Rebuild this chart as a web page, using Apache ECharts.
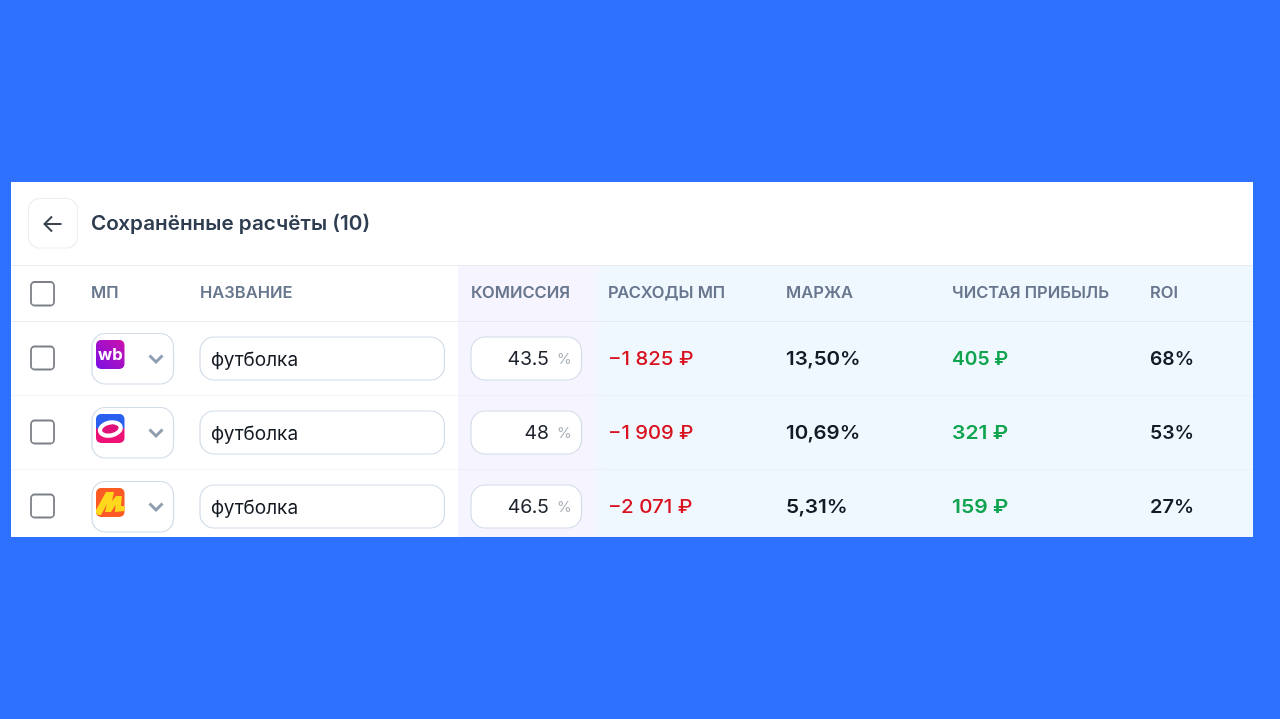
<!DOCTYPE html>
<html>
<head>
<meta charset="utf-8">
<title>Сохранённые расчёты</title>
<style>
  html, body { margin: 0; padding: 0; background: #2f71ff; }
  #chart { width: 1280px; height: 719px; }
</style>
<script src="https://cdn.jsdelivr.net/npm/echarts@6/dist/echarts.min.js"></script>
</head>
<body>
<div id="chart"></div>
<script>
// данные таблицы
var title = 'Сохранённые расчёты (10)';
var headers = ['МП', 'НАЗВАНИЕ', 'КОМИССИЯ', 'РАСХОДЫ МП', 'МАРЖА', 'ЧИСТАЯ ПРИБЫЛЬ', 'ROI'];
var rows = ['wb', 'ozon', 'ym'];
var names = ['футболка', 'футболка', 'футболка'];
var commission = [43.5, 48, 46.5];
var costs = [-1825, -1909, -2071];
var margin = [13.50, 10.69, 5.31];
var profit = [405, 321, 159];
var roi = [68, 53, 27];

// положение колонок, px
var headerX = [91, 200, 471, 608, 786, 952, 1150];
var font = 'Inter, "Noto Sans", sans-serif';
var BORDER = '#d2dce7';
var ctx = document.createElement('canvas').getContext('2d');

function money(v) {
  var s = String(Math.abs(v)).replace(/\B(?=(\d{3})+$)/g, ' ');
  return (v < 0 ? '\u2212' : '') + s + ' \u20BD';
}

function points(list) {
  return list.map(function (v, i) { return [i, v]; });
}

function cellText(x, cy, text, weight, size, color, align, stretch) {
  var el = {
    type: 'text',
    style: {
      x: x, y: cy, text: text, fill: color,
      font: weight + ' ' + size + 'px ' + font,
      textAlign: align || 'left', textVerticalAlign: 'middle'
    }
  };
  if (stretch) {
    el.scaleX = stretch;
    el.originX = x;
    el.originY = cy;
  }
  return el;
}

// в оригинале цифры моноширинные, на canvas tnum не включить
function tabularStretch(text, weight, size) {
  ctx.font = weight + ' ' + size + 'px ' + font;
  var natural = ctx.measureText(text).width;
  var zero = ctx.measureText('0').width;
  var tab = natural;
  text.split('').forEach(function (ch) {
    if (/\d/.test(ch)) tab += zero - ctx.measureText(ch).width;
  });
  return tab / natural;
}

function box(x1, y1, x2, y2, r, fill, stroke, lw) {
  return {
    type: 'rect',
    shape: { x: x1, y: y1, width: x2 - x1, height: y2 - y1, r: r },
    style: { fill: fill, stroke: stroke, lineWidth: lw || 1.2 }
  };
}

function rowY(api) {
  return api.coord([0, api.value(0)])[1];
}

// колонка с текстом
function textSeries(list, x, weight, color, format) {
  return {
    type: 'custom',
    encode: { y: 0, x: 1 },
    clip: false,
    silent: true,
    data: points(list),
    renderItem: function (params, api) {
      var text = format(api.value(1));
      return cellText(x, rowY(api), text, weight, 19, color, 'left', tabularStretch(text, weight, 19));
    }
  };
}

function logo(kind, x, y) {
  var children = [];
  var w = 28.5, h = 29;
  if (kind === 'wb') {
    children.push({
      type: 'rect',
      shape: { x: x, y: y, width: w, height: h, r: 5 },
      style: {
        fill: new echarts.graphic.LinearGradient(1, 0, 0, 1, [
          { offset: 0, color: '#cb11ab' },
          { offset: 1, color: '#7a0fe6' }
        ])
      }
    });
    children.push(cellText(x + 2, y + 15, 'wb', 700, 16, '#ffffff', 'left', 1.04));
  } else if (kind === 'ozon') {
    children.push({
      type: 'rect',
      shape: { x: x, y: y, width: w, height: h, r: 5 },
      style: {
        fill: new echarts.graphic.LinearGradient(0, 0, 0, 1, [
          { offset: 0, color: '#2a5ff0' },
          { offset: 0.48, color: '#2a5ff0' },
          { offset: 0.52, color: '#ee1277' },
          { offset: 1, color: '#ee1277' }
        ])
      }
    });
    children.push({
      type: 'ellipse',
      shape: { cx: x + w / 2, cy: y + h / 2 + 0.5, rx: 10.5, ry: 6.5 },
      rotation: 0.2,
      originX: x + w / 2,
      originY: y + h / 2,
      style: { fill: '#e0127a', stroke: '#ffffff', lineWidth: 4.2 }
    });
  } else {
    children.push({
      type: 'rect',
      shape: { x: x, y: y, width: w, height: h, r: 5 },
      style: { fill: '#fb5a24' }
    });
    children.push({
      type: 'polygon',
      shape: {
        points: [[x, y + 22], [x + 10, y + 4], [x + 18, y + 4], [x + 16, y + 13], [x + 20, y + 8],
          [x + 26, y + 8], [x + 25, y + 18], [x + 28.5, y + 18], [x + 28.5, y + 23], [x + 19, y + 24],
          [x + 19.5, y + 17], [x + 15, y + 24], [x + 9, y + 24], [x + 11, y + 16], [x + 5, y + 27],
          [x + 2, y + 27], [x, y + 25]]
      },
      style: { fill: '#ffd71c' }
    });
  }
  return children;
}

var series = [
  // чекбоксы
  {
    type: 'custom', encode: { y: 0, x: 1 }, clip: false, silent: true,
    data: points(rows),
    renderItem: function (params, api) {
      var cy = rowY(api);
      return box(31, cy - 12.5, 54, cy + 10.5, 3.5, '#ffffff', '#7d8187', 1.8);
    }
  },
  // выбор маркетплейса
  {
    type: 'custom', encode: { y: 0, x: 1 }, clip: false, silent: true,
    data: points(rows),
    renderItem: function (params, api) {
      var cy = rowY(api);
      var kids = [box(92, cy - 25.5, 173.5, cy + 25, 13, '#ffffff', BORDER)];
      kids = kids.concat(logo(rows[params.dataIndex], 96, cy - 19));
      kids.push({
        type: 'polyline',
        shape: { points: [[149.5, cy - 3.5], [156, cy + 3], [162.5, cy - 3.5]] },
        style: { fill: null, stroke: '#8f9db1', lineWidth: 3 }
      });
      return { type: 'group', children: kids };
    }
  },
  // название
  {
    type: 'custom', encode: { y: 0, x: 1 }, clip: false, silent: true,
    data: points(names),
    renderItem: function (params, api) {
      var cy = rowY(api);
      return {
        type: 'group',
        children: [
          box(200, cy - 22, 444.5, cy + 21, 14, '#ffffff', BORDER),
          cellText(211, cy + 1, names[params.dataIndex], 400, 19, '#141a22')
        ]
      };
    }
  },
  // комиссия
  {
    type: 'custom', encode: { y: 0, x: 1 }, clip: false, silent: true,
    data: points(commission),
    renderItem: function (params, api) {
      var cy = rowY(api);
      var text = String(api.value(1));
      return {
        type: 'group',
        children: [
          box(471, cy - 22, 581.5, cy + 21, 14, '#ffffff', BORDER),
          cellText(549, cy, text, 400, 19, '#1b222c', 'right', tabularStretch(text, 400, 19) * 1.02),
          cellText(557, cy, '%', 400, 15, '#a9b0b9')
        ]
      };
    }
  },
  textSeries(costs, 608, 500, '#d8121f', money),
  textSeries(margin, 786, 600, '#111b27', function (v) {
    return v.toFixed(2).replace('.', ',') + '%';
  }),
  textSeries(profit, 952, 600, '#10a44f', money),
  textSeries(roi, 1150, 600, '#111b27', function (v) { return v + '%'; })
];

// карточка и шапка
var chrome = [
  { type: 'rect', shape: { x: 11, y: 182, width: 1242, height: 355 }, style: { fill: '#ffffff' } },
  {
    type: 'rect', shape: { x: 458, y: 266, width: 795, height: 271 },
    style: {
      fill: new echarts.graphic.LinearGradient(0, 0, 1, 0, [
        { offset: 0, color: '#f6f5ff' },
        { offset: 0.166, color: '#f6f5ff' },
        { offset: 0.185, color: '#f0f8ff' },
        { offset: 1, color: '#f0f8ff' }
      ])
    }
  },
  { type: 'line', shape: { x1: 11, y1: 265.5, x2: 1253, y2: 265.5 }, style: { stroke: '#e8ecf1', lineWidth: 1.2 } },
  { type: 'line', shape: { x1: 11, y1: 321.5, x2: 1253, y2: 321.5 }, style: { stroke: '#e8ecf1', lineWidth: 1.2 } },
  { type: 'line', shape: { x1: 11, y1: 395.5, x2: 1253, y2: 395.5 }, style: { stroke: 'rgba(225,230,240,0.3)', lineWidth: 1.5 } },
  { type: 'line', shape: { x1: 11, y1: 469.5, x2: 1253, y2: 469.5 }, style: { stroke: 'rgba(225,230,240,0.3)', lineWidth: 1.5 } },
  box(28.5, 198.5, 77.5, 248, 11, '#ffffff', '#eceff3'),
  {
    type: 'polyline',
    shape: { points: [[52, 216.5], [44.5, 224], [52, 231.5]] },
    style: { fill: null, stroke: '#3a4350', lineWidth: 2 }
  },
  { type: 'line', shape: { x1: 45, y1: 224, x2: 61.5, y2: 224 }, style: { stroke: '#3a4350', lineWidth: 2 } },
  box(31, 282, 54, 305.5, 3.5, '#ffffff', '#7d8187', 1.8),
  cellText(91, 223.5, title, 600, 20, '#2f3d50', 'left', 1.033)
];
headers.forEach(function (h, i) {
  chrome.push(cellText(headerX[i], 293, h, 600, 15.5, '#68778e', 'left', 1.065));
});

var myChart = echarts.init(document.getElementById('chart'));
myChart.setOption({
  backgroundColor: '#2f71ff',
  animation: false,
  tooltip: { show: false },
  grid: { left: 0, right: 0, top: 322, height: 222 },
  xAxis: { type: 'value', min: 0, max: 1280, show: false },
  yAxis: { type: 'category', data: rows, inverse: true, show: false },
  graphic: { elements: chrome },
  series: series
});
</script>
</body>
</html>
